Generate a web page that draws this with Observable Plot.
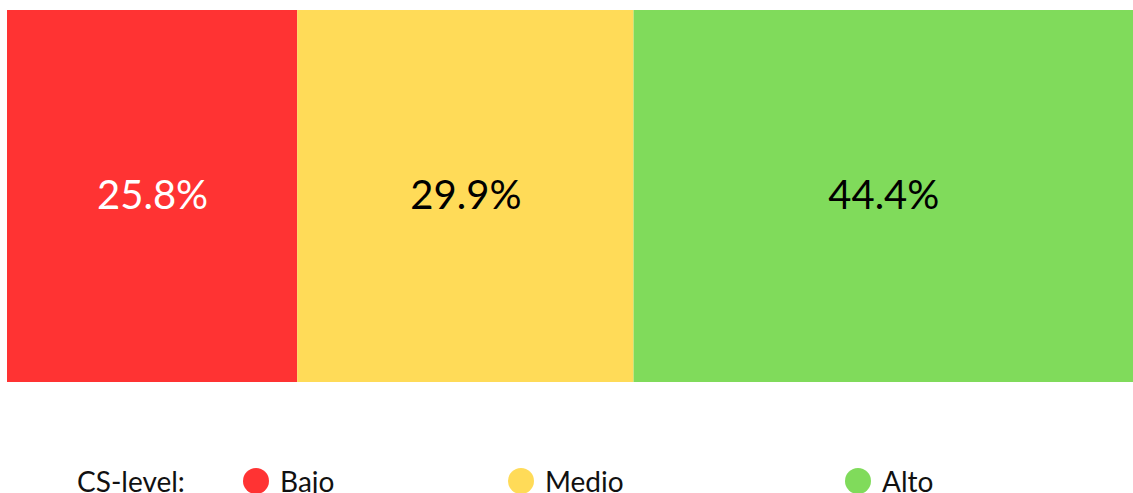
<!DOCTYPE html>
<html>
<head>
<meta charset="utf-8">
<script src="https://cdn.jsdelivr.net/npm/d3@7"></script>
<script src="https://cdn.jsdelivr.net/npm/@observablehq/plot@0.6"></script>
<style>
  html, body { margin: 0; padding: 0; background: #fff; overflow: hidden; }
  body { width: 1133px; height: 493px; position: relative; font-family: Lato, "Noto Sans", sans-serif; }
  #legend { position: absolute; left: 0; top: 461px; width: 1133px; height: 40px; font-size: 28px; color: #111; }
  #legend .item { position: absolute; display: flex; align-items: center; top: 0; height: 40px; }
  #legend .dot { width: 26px; height: 26px; border-radius: 50%; margin-right: 11px; }
</style>
</head>
<body>
<div id="chart"></div>
<div id="legend"></div>
<script>
const categories = ["Bajo", "Medio", "Alto"];
const values = [25.8, 29.9, 44.4];
const labels = ["25.8%", "29.9%", "44.4%"];
const colors = ["#FF3333", "#FFDB58", "#80DB5B"];
const textColors = ["#ffffff", "#000000", "#000000"];
const legendTitle = "CS-level:";

const data = categories.map((c, i) => ({cat: c, value: values[i], label: labels[i], tc: textColors[i]}));
const total = d3.sum(values);

const plot = Plot.plot({
  width: 1133,
  height: 395,
  marginLeft: 7,
  marginRight: 0,
  marginTop: 10,
  marginBottom: 13,
  x: {domain: [0, total], axis: null},
  y: {axis: null, padding: 0},
  color: {domain: categories, range: colors},
  style: {fontFamily: "Lato, 'Noto Sans', sans-serif"},
  marks: [
    Plot.barX(data, Plot.stackX({x: "value", y: () => "all", fill: "cat", order: categories, inset: 0})),
    Plot.text(data, Plot.stackX({x: "value", y: () => "all", text: "label", fill: "tc", order: categories, fontSize: 40}))
  ]
});
document.getElementById("chart").appendChild(plot);

const legend = document.getElementById("legend");
const title = document.createElement("div");
title.className = "item";
title.style.left = "77px";
title.textContent = legendTitle;
legend.appendChild(title);
const lefts = [243, 508, 845];
categories.forEach((c, i) => {
  const it = document.createElement("div");
  it.className = "item";
  it.style.left = lefts[i] + "px";
  const dot = document.createElement("span");
  dot.className = "dot";
  dot.style.background = colors[i];
  const t = document.createElement("span");
  t.textContent = c;
  it.appendChild(dot);
  it.appendChild(t);
  legend.appendChild(it);
});
</script>
</body>
</html>
